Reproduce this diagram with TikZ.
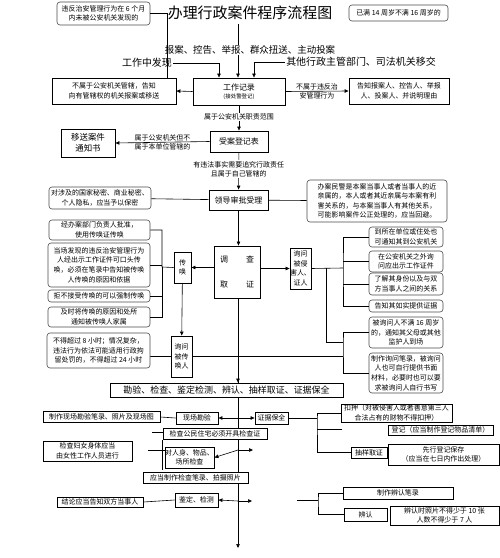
\documentclass[tikz,border=0pt]{standalone}
\usepackage{fontspec}
\setmainfont{Noto Sans CJK SC}
\usetikzlibrary{arrows.meta,backgrounds}
\newcommand{\fs}{\fontsize{7}{9.6}\selectfont}

\begin{document}
\begin{tikzpicture}[x=1bp,y=-1bp,
  box/.style={draw,line width=.9bp,fill=white,align=center,inner sep=0pt,font=\fs},
  rbox/.style={draw=black!70,line width=.6bp,rounded corners=3bp,fill=white,align=center,inner sep=0pt,font=\fs},
  ln/.style={line width=.6bp},
  arr/.style={ln,-{Triangle[length=4bp,width=3.5bp]}},
  lab/.style={font=\fs,inner sep=1bp}]
\useasboundingbox (0,0) rectangle (500,558);

\node[font=\fontsize{15}{18}\selectfont] (title) at (250,13) {办理行政案件程序流程图};
\node[rbox,minimum width=93bp,minimum height=23bp] (sixm) at (103.5,13.5) {违反治安管理行为在 6 个月\\内未被公安机关发现的};
\node[rbox,minimum width=99bp,minimum height=16bp] (age) at (398.5,13) {已满 14 周岁不满 16 周岁的};
\node[fill=white,inner sep=1bp,font=\fontsize{9.5}{11}\selectfont] (src1) at (250,50) {报案、控告、举报、群众扭送、主动投案};
\node[inner sep=1bp,font=\fontsize{10}{12}\selectfont] (src2) at (147,63) {工作中发现};
\node[inner sep=1bp,font=\fontsize{10}{12}\selectfont] (src3) at (361,62) {其他行政主管部门、司法机关移交};
\coordinate (s1) at (238,24);

\node[box,minimum width=92bp,minimum height=27bp,font=\fontsize{8}{10}\selectfont] (rec) at (239,91.5) {工作记录\\[-2bp]{\fontsize{5.5}{6}\selectfont(接处警登记)}};
\node[box,minimum width=124bp,minimum height=26bp] (notps) at (114,91) {不属于公安机关管辖，告知\\向有管辖权的机关报案或移送};
\node[box,minimum width=100bp,minimum height=26bp] (tell) at (399,91) {告知报案人、控告人、举报\\人、投案人、并说明理由};
\node[box,minimum width=58bp,minimum height=21bp,font=\fontsize{8}{10}\selectfont] (reg) at (239,141.5) {受案登记表};
\node[box,minimum width=54bp,minimum height=28bp,font=\fontsize{8.5}{11}\selectfont] (notice) at (88,143) {移送案件\\通知书};
\node[box,minimum width=59bp,minimum height=20bp,font=\fontsize{8}{10}\selectfont] (appr) at (238.5,200) {领导审批受理};
\node[rbox,minimum width=102bp,minimum height=22bp] (secret) at (100,198) {对涉及的国家秘密、商业秘密、\\个人隐私，应当予以保密};
\node[rbox,minimum width=140bp,minimum height=42bp] (avoid) at (377,201) {办案民警是本案当事人或者当事人的近\\亲属的，本人或者其近亲属与本案有利\\害关系的，与本案当事人有其他关系，\\可能影响案件公正处理的，应当回避。};

\node[box,minimum width=46bp,minimum height=52bp,font=\fontsize{8}{10}\selectfont] (inv) at (237,272) {调\hspace{18bp}查\\[15bp]取\hspace{18bp}证};
\node[box,minimum width=17bp,minimum height=31bp] (summon) at (182.5,267.5) {传\\唤};
\node[box,minimum width=18bp,minimum height=41bp] (askvic) at (300.5,268.5) {询问\\被侵\\害人、\\证人};
\node[box,minimum width=21bp,minimum height=41bp] (askcalled) at (181.5,356.5) {询问\\被传\\唤人};

\node[rbox,minimum width=101bp,minimum height=20bp] (l1) at (99.5,230) {经办案部门负责人批准，\\使用传唤证传唤};
\node[rbox,minimum width=102bp,minimum height=44bp] (l2) at (99,265) {当场发现的违反治安管理行为\\人经出示工作证件可口头传\\唤，必须在笔录中告知被传唤\\人传唤的原因和依据};
\node[rbox,minimum width=102bp,minimum height=12bp] (l3) at (99,296) {拒不接受传唤的可以强制传唤};
\node[rbox,minimum width=102bp,minimum height=20bp] (l4) at (99,317) {及时将传唤的原因和处所\\通知被传唤人家属};
\node[rbox,minimum width=103bp,minimum height=35bp] (l5) at (98.5,350.5) {不得超过 8 小时；情况复杂，\\违法行为依法可能适用行政拘\\留处罚的，不得超过 24 小时};

\node[rbox,minimum width=74bp,minimum height=20bp] (r1) at (406,237) {到所在单位或住处也\\可通知其到公安机关};
\node[rbox,minimum width=74bp,minimum height=21bp] (r2) at (406,261.5) {在公安机关之外询\\问应出示工作证件};
\node[rbox,minimum width=74bp,minimum height=22bp] (r3) at (406,284) {了解其身份以及与双\\方当事人之间的关系};
\node[rbox,minimum width=74bp,minimum height=12bp] (r4) at (406,306) {告知其如实提供证据};
\node[rbox,minimum width=74bp,minimum height=31bp] (r5) at (406,332.5) {被询问人不满 16 周岁\\的，通知其父母或其他\\监护人到场};
\node[rbox,minimum width=74bp,minimum height=40bp] (r6) at (406,373) {制作询问笔录，被询问\\人也可自行提供书面\\材料，必要时也可以要\\求被询问人自行书写};

\node[box,minimum width=233bp,minimum height=14bp,font=\fontsize{9}{10}\selectfont] (bar) at (226.5,390) {勘验、检查、鉴定检测、辨认、抽样取证、证据保全};
\node[box,minimum width=42bp,minimum height=12bp] (scene) at (197,418) {现场勘验};
\node[box,minimum width=117bp,minimum height=11bp] (scenerec) at (101.5,417) {制作现场勘验笔录、照片及现场图};
\node[box,minimum width=33bp,minimum height=12bp] (keep) at (271.5,418) {证据保全};
\node[box,minimum width=104bp,minimum height=11bp] (home) at (215,433.5) {检查公民住宅必须开具检查证};
\node[box,minimum width=89bp,minimum height=20bp] (women) at (87.5,451) {检查妇女身体应当\\由女性工作人员进行};
\node[box,minimum width=49bp,minimum height=21bp] (body) at (189.5,457.5) {对人身、物品、\\场所检查};
\node[box,minimum width=105bp,minimum height=11bp] (checkrec) at (195.5,478) {应当制作检查笔录、拍摄照片};
\node[box,minimum width=111bp,minimum height=18bp] (seize) at (396.5,413) {扣押（对被侵害人或者善意第三人\\合法占有的财物不得扣押）};
\node[box,minimum width=105bp,minimum height=10bp] (regist) at (440.5,430) {登记（应当制作登记物品清单）};
\node[box,minimum width=36bp,minimum height=11bp] (sample) at (369,452.5) {抽样取证};
\node[box,minimum width=111bp,minimum height=21bp] (presave) at (443.5,454.5) {先行登记保存\\（应当在七日内作出处理）};
\node[box,minimum width=43bp,minimum height=14bp] (ident) at (196.5,500) {鉴定、检测};
\node[box,minimum width=86bp,minimum height=10bp] (concl) at (100,502) {结论应当告知双方当事人};
\node[box,minimum width=110bp,minimum height=12bp] (idrec) at (398,493) {制作辨认笔录};
\node[box,minimum width=43bp,minimum height=13bp] (idf) at (365.5,514.5) {辨认};
\node[box,minimum width=109bp,minimum height=19bp] (idrule) at (444.5,515.5) {辨认时照片不得少于 10 张\\人数不得少于 7 人};

\coordinate (jl) at (162,267);
\coordinate (jr) at (343,268);
\coordinate (jr2) at (326,268);
\coordinate (jr3) at (343,342);
\coordinate (c356) at (343,356);
\coordinate (m418) at (238,418);
\coordinate (m450) at (238,450);
\coordinate (m501) at (238,501);
\coordinate (mend) at (238,548);
\coordinate (e450) at (253,450);
\coordinate (e501) at (252,501);
\coordinate (jk) at (317,418);
\coordinate (eregist) at (342,429);
\coordinate (jid) at (318,500);
\coordinate (sid) at (297,500);
\coordinate (shome) at (152,432);
\coordinate (sbody) at (148,450);
\coordinate (bt) at (162,440);
\coordinate (bb) at (162,470);

\begin{scope}[on background layer]
\draw[arr] (s1) -- (s1 |- rec.north);
\draw[ln] (l5.east |- c356) -- (c356);
\draw[arr] (inv.south -| mend) -- (mend);
\draw[arr] (inv.south -| mend) -- (mend |- bar.north);
\end{scope}

\draw[ln] (sixm.east) -| ([xshift=53bp]notps.north);
\draw[arr] (src2.east) -| ([xshift=-20bp]rec.north);
\draw[arr] (src3.west) -| ([xshift=15bp]rec.north);
\draw[arr] (rec.west) -- (notps.east);
\draw[arr] (rec.east) -- node[lab,above] {不属于违反治} node[lab,below] {安管理行为} (tell.west);
\draw[arr] (rec) -- node[lab,fill=white,pos=.45] {属于公安机关职责范围} (reg);
\draw[arr] (reg.west) -- node[lab,above] {属于公安机关但不} node[lab,below] {属于本单位管辖的} (notice.east);
\draw[arr] (reg) -- node[lab,fill=white,align=center,pos=.45] {有违法事实需要追究行政责任\\且属于自己管辖的} (appr);
\draw[ln] (secret) -- (appr);
\draw[ln] (appr) -- (avoid);
\draw[arr] (appr.south) -- (appr.south |- inv.north);
\draw[arr] (inv.west |- summon) -- (summon.east);
\draw[arr] (inv.east |- askvic) -- (askvic.east -| askvic.west);
\draw[arr] (summon) -- (askcalled);

\draw[ln] (l1.east) -| (jl) -- (summon.west);
\draw[ln] (l4.east) -| (jl);
\draw[ln] (l2.east) -- (l2.east -| jl);
\draw[ln] (l3.east) -- (l3.east -| jl);

\draw[ln] (askvic.east) -- (jr);
\draw[ln] (r1.west) -| (jr) |- (r4.west);
\draw[ln] (r2.west) -- (r2.west -| jr);
\draw[ln] (r3.west) -- (r3.west -| jr);
\draw[ln] (jr2) |- (jr3);
\draw[ln] (r5.west) -| (jr3) |- (r6.west);

\draw[arr] (m418) -- (scene.east);
\draw[arr] (m418) -- (keep.west);
\draw[ln] (scenerec.east) -- (scene.west);
\draw[ln] (keep.east) -- (jk);
\draw[ln] (seize.west) -| (jk) |- (sample.west);
\draw[ln] (eregist -| jk) -- (eregist);
\draw[ln] (shome) -- (home.west |- shome);
\draw[ln] (sbody) -- (body.west |- sbody);
\draw[ln] (bt) -- (bb);
\draw[arr] (m450) -- (body.east);
\draw[arr] (m450) -- (e450);
\draw[arr] (m501) -- (ident.east);
\draw[arr] (m501) -- (e501);
\draw[ln] (ident.west) -- (concl.east);
\draw[ln] (sid) -- (jid);
\draw[ln] (idrec.west) -| (jid) |- (idf.west);
\end{tikzpicture}
\end{document}
